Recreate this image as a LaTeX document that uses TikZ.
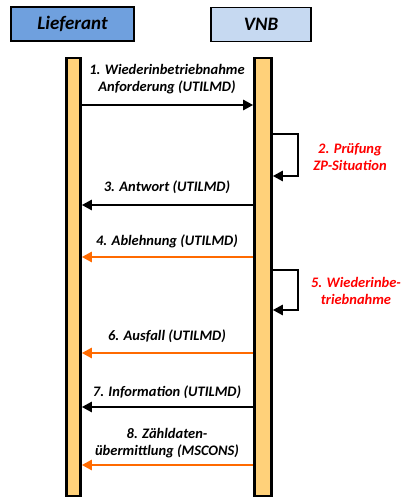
\documentclass[tikz,border=0pt]{standalone}
\usepackage{fontspec}
\setmainfont{Carlito}
\usetikzlibrary{arrows.meta, positioning, calc}
\definecolor{HB}{RGB}{111,160,222}
\definecolor{HL}{RGB}{198,217,241}
\definecolor{BY}{RGB}{255,209,122}
\definecolor{AO}{RGB}{255,106,0}
\definecolor{TR}{RGB}{255,0,0}

\begin{document}
\begin{tikzpicture}[x=1pt, y=-1pt,
  head/.style={draw=black, line width=1.6pt, minimum height=34pt,
               font=\fontsize{19}{22}\selectfont\bfseries\itshape, inner sep=0pt},
  life/.style={draw=black, line width=2.6pt, fill=BY, minimum height=438pt, inner sep=0pt},
  msg/.style={line width=2.6pt, -{Triangle[length=10pt, width=10pt]}},
  lbl/.style={font=\fontsize{14.5}{17}\selectfont\bfseries\itshape, align=center, inner sep=0pt},
  note/.style={lbl, text=TR}
]
\useasboundingbox (0,0) rectangle (406,500);

% participants
\node[head, fill=HB, minimum width=123pt] (lief) at (72.5,24) {Lieferant};
\node[head, fill=HL, minimum width=100pt] (vnb)  at (261,24.5) {VNB};

% lifelines
\node[life, minimum width=14pt] (lbar) at (73.5,277) {};
\node[life, minimum width=17pt] (vbar) at (263,277) {};

% message rows
\coordinate (m1) at (0,105);
\coordinate (m2a) at (0,134);  \coordinate (m2b) at (0,176);
\coordinate (m3) at (0,205);
\coordinate (m4) at (0,257);
\coordinate (m5a) at (0,270);  \coordinate (m5b) at (0,310);
\coordinate (m6) at (0,353);
\coordinate (m7) at (0,407);
\coordinate (m8) at (0,465);

\draw[msg] (lbar.east |- m1) -- (vbar.west |- m1);
\node[lbl] (t1) at (167,79.5) {1. Wiederinbetriebnahme\\Anforderung (UTILMD)};

\draw[msg] (vbar.east |- m2a) -| (298,155) |- (vbar.east |- m2b);
\node[note] (t2) at (350,157) {2. Prüfung\\ZP-Situation};

\draw[msg] (vbar.west |- m3) -- (lbar.east |- m3);
\node[lbl] (t3) at (167,187) {3. Antwort (UTILMD)};

\draw[msg, AO] (vbar.west |- m4) -- (lbar.east |- m4);
\node[lbl] (t4) at (167,241) {4. Ablehnung (UTILMD)};

\draw[msg] (vbar.east |- m5a) -| (298,290) |- (vbar.east |- m5b);
\node[note] (t5) at (356,290.5) {5. Wiederinbe-\\triebnahme};

\draw[msg, AO] (vbar.west |- m6) -- (lbar.east |- m6);
\node[lbl] (t6) at (167,336) {6. Ausfall (UTILMD)};

\draw[msg] (vbar.west |- m7) -- (lbar.east |- m7);
\node[lbl] (t7) at (167,392) {7. Information (UTILMD)};

\draw[msg, AO] (vbar.west |- m8) -- (lbar.east |- m8);
\node[lbl] (t8) at (167,443.5) {8. Zähldaten-\\übermittlung (MSCONS)};
\end{tikzpicture}
\end{document}
